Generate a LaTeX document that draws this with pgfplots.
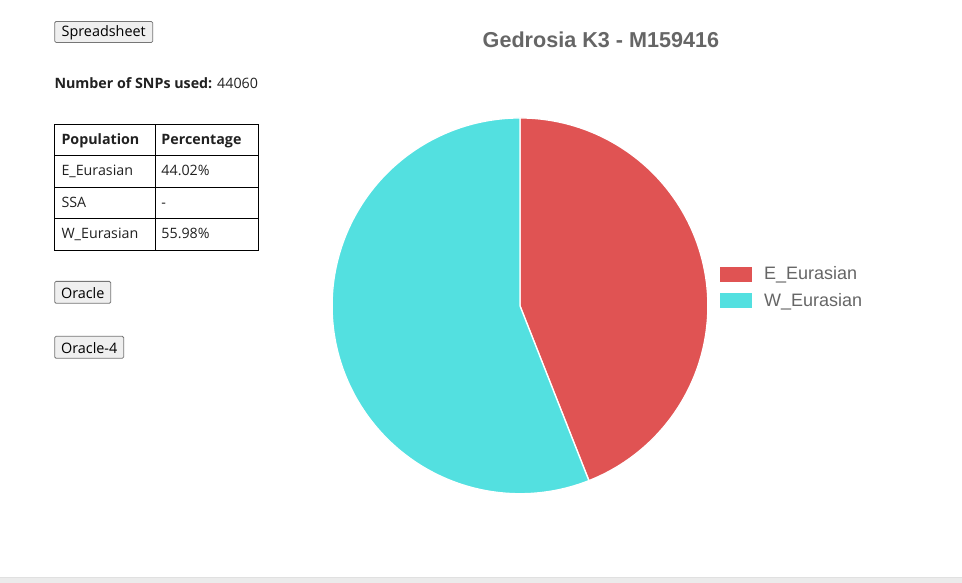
\documentclass[border=0pt]{standalone}
\usepackage{fontspec}
\setmainfont{Open Sans}
\newfontfamily\arial{Liberation Sans}
\usepackage{pgfplots}
\usepackage{pgfplotstable}
\pgfplotsset{compat=1.18}

\definecolor{pieRed}{RGB}{224,83,83}
\definecolor{pieCyan}{RGB}{83,224,224}
\definecolor{titleGray}{RGB}{102,102,102}
\definecolor{btnFill}{RGB}{239,239,239}
\definecolor{btnLine}{RGB}{118,118,118}
\definecolor{txt}{RGB}{33,33,33}

% admixture result
\pgfplotstableread{
pop pct
E_Eurasian 44.02
W_Eurasian 55.98
}\piedata
\pgfplotstablegetelem{0}{pct}\of\piedata
\pgfmathsetmacro{\aE}{90-3.6*\pgfplotsretval}

\begin{document}
\begin{tikzpicture}[x=0.75pt,y=-0.75pt]
% page
\fill[white] (0,0) rectangle (962,583);
\fill[black!8] (0,577) rectangle (962,583);
\draw[black!12] (0,577.5) -- (962,577.5);

% left column
\tikzset{btn/.style={fill=btnFill,draw=btnLine,rounded corners=1pt,line width=0.6pt}}
\draw[btn] (54.5,21.5) rectangle (152.5,42.5);
\node[font=\fontsize{10.8}{12}\selectfont,text=black] at (103.5,33) {Spreadsheet};
\node[anchor=base west,font=\fontsize{10.7}{12}\selectfont,text=txt,inner sep=0] at (54,89)
  {\textbf{Number of SNPs used:} 44060};

\draw[black,line width=0.75pt] (54.5,124.5) rectangle (258.5,250.5);
\foreach \y in {155.5,187.5,218.5} \draw[black,line width=0.75pt] (54.5,\y) -- (258.5,\y);
\draw[black,line width=0.75pt] (155.5,124.5) -- (155.5,250.5);
\begin{scope}[every node/.style={anchor=base west,inner sep=0,text=txt,font=\fontsize{10.7}{12}\selectfont}]
\node at (61,145) {\textbf{Population}};
\node at (161,145) {\textbf{Percentage}};
\node at (61,176) {E\_Eurasian};
\node at (161,176) {44.02\%};
\node at (61,208) {SSA};
\node at (161,208) {-};
\node at (61,239) {W\_Eurasian};
\node at (161,239) {55.98\%};
\end{scope}

\draw[btn] (54.5,281.5) rectangle (110.5,303.5);
\node[font=\fontsize{10.8}{12}\selectfont,text=black] at (82.5,293) {Oracle};
\draw[btn] (54.5,336.5) rectangle (123.5,358.5);
\node[font=\fontsize{10.8}{12}\selectfont,text=black] at (89,348) {Oracle-4};

% title
\node[font=\arial\bfseries\fontsize{16.2}{19}\selectfont,text=titleGray] at (601,40) {Gedrosia K3 - M159416};

\coordinate (pc) at (520,306);
% pie
\begin{axis}[
    at={(pc)}, anchor=center,
    width=282pt, height=282pt, scale only axis,
    xmin=-1, xmax=1, ymin=-1, ymax=1,
    hide axis, clip=false,
    legend style={at={(1.032,0.549)}, anchor=west, draw=none, fill=none,
        font=\arial\fontsize{13.5}{15}\selectfont, text=titleGray,
        row sep=4.5pt, column sep=7pt, inner sep=0pt},
    legend cell align=left,
    legend image code/.code={\fill[#1,draw=none] (0pt,-5.8pt) rectangle (24pt,5.8pt);},
]
\addplot[fill=pieRed, draw=white, line width=1pt, domain=\aE:90, samples=200, variable=\t]
    ({cos(t)},{sin(t)}) -- (axis cs:0,0) -- cycle;
\addlegendentry{E\_Eurasian}
\addplot[fill=pieCyan, draw=white, line width=1pt, domain=-270:\aE, samples=250, variable=\t]
    ({cos(t)},{sin(t)}) -- (axis cs:0,0) -- cycle;
\addlegendentry{W\_Eurasian}
\end{axis}
\end{tikzpicture}
\end{document}
